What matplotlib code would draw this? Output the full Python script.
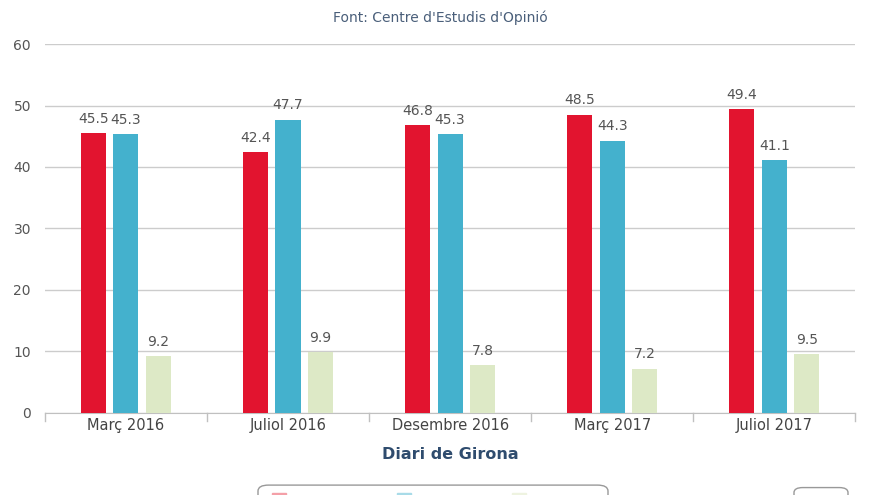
import numpy as np
import matplotlib
matplotlib.use("Agg")
import matplotlib.pyplot as plt
from matplotlib.patches import FancyBboxPatch, Rectangle

categories = ["Març 2016", "Juliol 2016", "Desembre 2016", "Març 2017", "Juliol 2017"]
serie_a = [45.5, 42.4, 46.8, 48.5, 49.4]
serie_b = [45.3, 47.7, 45.3, 44.3, 41.1]
serie_c = [9.2, 9.9, 7.8, 7.2, 9.5]
colors = ["#e2142f", "#44b1cd", "#dde9c6"]

plt.rcParams['font.family'] = ['DejaVu Sans']

fig = plt.figure(figsize=(8.8, 4.95), dpi=100)
ax = fig.add_axes([0.051, 0.166, 0.921, 0.745])

x = np.arange(len(categories))
w = 0.155
step = 0.2
for i, (vals, c) in enumerate(zip([serie_a, serie_b, serie_c], colors)):
    pos = x + (i - 1) * step
    ax.bar(pos, vals, width=w, color=c, zorder=3)
    for p, v in zip(pos, vals):
        ax.text(p, v + 1.2, f"{v}", ha="center", va="bottom", fontsize=10, color="#555555")

ax.set_xlim(-0.5, 4.5)
ax.set_ylim(0, 60)
ax.set_yticks(range(0, 61, 10))
ax.grid(axis="y", color="#cccccc", linewidth=1, zorder=0)
for s in ["top", "right", "left"]:
    ax.spines[s].set_visible(False)
ax.spines["bottom"].set_color("#c0c0c0")
ax.tick_params(axis="y", length=0, labelsize=10, labelcolor="#555555", pad=10)
ax.set_xticks(x)
ax.set_xticklabels(categories, fontsize=10.5, color="#444444")
ax.tick_params(axis="x", length=0, pad=4)
# marques entre categories
for b in np.arange(-0.5, 5.0, 1.0):
    ax.plot([b, b], [0, -1.3], color="#c0c0c0", lw=1, clip_on=False)

ax.set_xlabel("Diari de Girona", fontsize=11.5, fontweight="bold", color="#2f4c6e", labelpad=10)
fig.text(0.5, 0.965, "Font: Centre d'Estudis d'Opinió", ha="center", va="center",
         fontsize=10, color="#4a5f7a")

# llegenda i botó tallats a baix
fig.patches.append(FancyBboxPatch((258 / 880, -0.05), 350 / 880, 0.07,
                                  boxstyle="round,pad=0,rounding_size=0.012",
                                  transform=fig.transFigure, fill=False,
                                  edgecolor="#999999", lw=1))
for px, c in zip([272, 397, 512], ["#f4a0a8", "#a8dbe8", "#eef3e0"]):
    fig.patches.append(Rectangle((px / 880, -0.01), 14 / 880, 0.015,
                                 transform=fig.transFigure, color=c))
fig.patches.append(FancyBboxPatch((794 / 880, -0.05), 54 / 880, 0.065,
                                  boxstyle="round,pad=0,rounding_size=0.01",
                                  transform=fig.transFigure, fill=False,
                                  edgecolor="#999999", lw=1))

fig.savefig("out.png", dpi=100)
